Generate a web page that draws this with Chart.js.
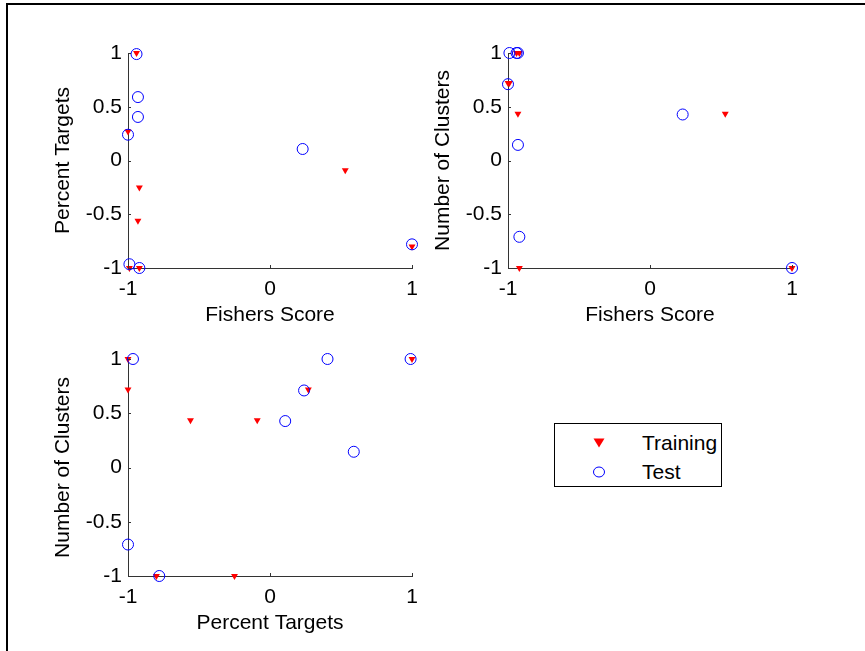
<!DOCTYPE html>
<html>
<head>
<meta charset="utf-8">
<title>Training vs Test</title>
<script src="https://cdn.jsdelivr.net/npm/chart.js@4.4.1/dist/chart.umd.min.js"></script>
<style>
  html, body { margin: 0; padding: 0; background: #fff; }
  body { width: 865px; height: 651px; position: relative; overflow: hidden;
         font-family: "Liberation Sans", Arial, sans-serif; }
  .frame { position: absolute; left: 6px; top: 3px; width: 900px; height: 700px;
           border-top: 2px solid #000; border-left: 2px solid #000; }
  canvas { position: absolute; }
  #legend { position: absolute; left: 554px; top: 423px; width: 166px; height: 62px;
            border: 1px solid #000; background: #fff; }
  #legend .row { position: absolute; left: 0; height: 24px; width: 166px; }
  #legend svg { position: absolute; left: 38px; top: 6px; }
  #legend span { position: absolute; left: 87px; top: 0; font-size: 21px; line-height: 24px; color: #000; }
</style>
</head>
<body>
<div class="frame"></div>
<canvas id="plotFP"></canvas>
<canvas id="plotFC"></canvas>
<canvas id="plotPC"></canvas>
<div id="legend"></div>
<script>
// Each sample has a Fishers score, a percent of targets and a number of clusters
const trainFisher   = [-0.94, -1.00, -0.92, -0.93, 0.53, 1.00, -0.99, -0.92];
const trainPercent  = [1.00, 0.27, -0.25, -0.56, -0.09, -0.80, -1.00, -1.00];
const trainClusters = [1.00, 0.72, -1.00, 0.435, 0.435, -1.00, 0.72, 1.00];

const testFisher   = [-0.94, -0.93, -0.93, -1.00, 0.23, 1.00, -0.99, -0.92];
const testPercent  = [0.99, 0.59, 0.405, 0.24, 0.107, -0.78, -0.965, -1.00];
const testClusters = [1.00, 0.145, 1.00, 0.71, 0.428, -1.00, 1.00, -0.71];

const xTickValues = [-1, 0, 1];
const xTickLabels = ["-1", "0", "1"];
const yTickValues = [-1, -0.5, 0, 0.5, 1];
const yTickLabels = ["-1", "-0.5", "0", "0.5", "1"];

const seriesLabels = ["Training", "Test"];

const RED = "#ff0000";
const BLUE = "#0000ff";
const AXIS = "#333333";
const FONT = { family: '"Liberation Sans", Arial, sans-serif', size: 21, lineHeight: 1.2 };

function zip(xs, ys) {
  return xs.map((v, i) => ({ x: v, y: ys[i] }));
}

// MATLAB style ticks pointing into the plot
const inwardTicks = {
  id: "inwardTicks",
  afterDraw(chart) {
    const { ctx, chartArea: a, scales: { x, y } } = chart;
    ctx.save();
    ctx.strokeStyle = AXIS;
    ctx.lineWidth = 1;
    ctx.beginPath();
    x.ticks.forEach(t => {
      const px = Math.round(x.getPixelForValue(t.value)) + 0.5;
      ctx.moveTo(px, a.bottom);
      ctx.lineTo(px, a.bottom - 3);
    });
    y.ticks.forEach(t => {
      const py = Math.round(y.getPixelForValue(t.value)) + 0.5;
      ctx.moveTo(a.left, py);
      ctx.lineTo(a.left + 3, py);
    });
    ctx.stroke();
    ctx.restore();
  }
};

function makePlot(id, box, area, xTitle, yTitle, xs, ys) {
  const canvas = document.getElementById(id);
  canvas.style.left = box.left + "px";
  canvas.style.top = box.top + "px";
  canvas.width = box.w;
  canvas.height = box.h;

  const half = FONT.size * FONT.lineHeight / 2;
  const xTitlePad = box.top + box.h - area.xTitleY - half;
  const yTitlePad = area.yTitleX - box.left - half;

  return new Chart(canvas, {
    type: "scatter",
    data: {
      datasets: [
        {
          label: seriesLabels[0],
          data: zip(xs[0], ys[0]),
          pointStyle: "triangle",
          pointRotation: 180,
          pointRadius: 4,
          pointBackgroundColor: RED,
          pointBorderColor: RED,
          pointBorderWidth: 0,
          clip: false,
          order: 2
        },
        {
          label: seriesLabels[1],
          data: zip(xs[1], ys[1]),
          pointStyle: "circle",
          pointRadius: 5.5,
          pointBackgroundColor: "rgba(0,0,0,0)",
          pointBorderColor: BLUE,
          pointBorderWidth: 1,
          clip: false,
          order: 1
        }
      ]
    },
    options: {
      responsive: false,
      animation: false,
      devicePixelRatio: 1,
      layout: {
        padding: { left: 0, top: area.top - box.top, right: box.left + box.w - area.right, bottom: 0 }
      },
      plugins: { legend: { display: false }, tooltip: { enabled: false } },
      scales: {
        x: {
          type: "linear",
          min: -1,
          max: 1,
          grid: { display: false, drawTicks: false },
          border: { display: true, color: AXIS, width: 1 },
          ticks: { color: "#000", font: FONT, padding: 9, autoSkip: false, maxRotation: 0,
                   callback: v => xTickLabels[xTickValues.indexOf(v)] },
          afterBuildTicks: s => { s.ticks = xTickValues.map(v => ({ value: v })); },
          afterFit: s => { s.height = box.top + box.h - area.bottom; },
          title: { display: true, text: xTitle, color: "#000", font: FONT,
                   padding: { top: xTitlePad, bottom: xTitlePad } }
        },
        y: {
          type: "linear",
          min: -1,
          max: 1,
          grid: { display: false, drawTicks: false },
          border: { display: true, color: AXIS, width: 1 },
          ticks: { color: "#000", font: FONT, padding: 6, autoSkip: false,
                   callback: v => yTickLabels[yTickValues.indexOf(v)] },
          afterBuildTicks: s => { s.ticks = yTickValues.map(v => ({ value: v })); },
          afterFit: s => { s.width = area.left - box.left; },
          title: { display: true, text: yTitle, color: "#000", font: FONT,
                   padding: { top: yTitlePad, bottom: yTitlePad } }
        }
      }
    },
    plugins: [inwardTicks]
  });
}

makePlot("plotFP",
  { left: 0, top: 0, w: 440, h: 340 },
  { left: 128, top: 53, right: 412, bottom: 268, xTitleY: 315, yTitleX: 63 },
  "Fishers Score", "Percent Targets",
  [trainFisher, testFisher], [trainPercent, testPercent]);

makePlot("plotFC",
  { left: 420, top: 0, w: 440, h: 340 },
  { left: 508, top: 53, right: 792, bottom: 268, xTitleY: 315, yTitleX: 443 },
  "Fishers Score", "Number of Clusters",
  [trainFisher, testFisher], [trainClusters, testClusters]);

const lastChart = makePlot("plotPC",
  { left: 0, top: 306, w: 440, h: 345 },
  { left: 128, top: 359, right: 412, bottom: 576, xTitleY: 623, yTitleX: 63 },
  "Percent Targets", "Number of Clusters",
  [trainPercent, testPercent], [trainClusters, testClusters]);

// Legend built from the datasets of the last plot
const legend = document.getElementById("legend");
lastChart.data.datasets.forEach((ds, i) => {
  const row = document.createElement("div");
  row.className = "row";
  row.style.top = (7 + i * 29) + "px";
  let icon;
  if (ds.pointStyle === "triangle") {
    icon = '<svg width="12" height="12"><polygon points="0.5,1.5 11.5,1.5 6,10.5" fill="' +
      ds.pointBackgroundColor + '"/></svg>';
  } else {
    icon = '<svg width="12" height="12"><ellipse cx="6" cy="6" rx="5.5" ry="5" fill="none" stroke="' +
      ds.pointBorderColor + '" stroke-width="1"/></svg>';
  }
  row.innerHTML = icon + "<span>" + ds.label + "</span>";
  legend.appendChild(row);
});
</script>
</body>
</html>
